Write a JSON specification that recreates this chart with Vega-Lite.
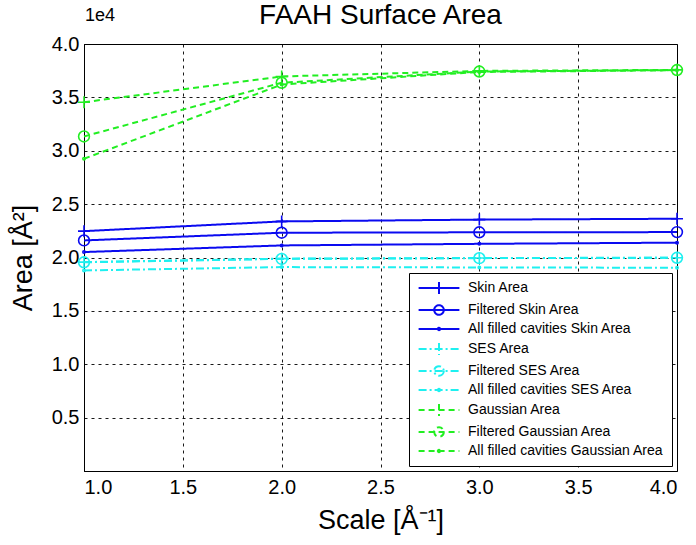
{
  "$schema": "https://vega.github.io/schema/vega-lite/v6.json",
  "width": 593,
  "height": 427,
  "autosize": {"type": "none"},
  "padding": {"left": 84, "top": 44, "right": 19, "bottom": 74},
  "background": "white",
  "config": {
    "font": "Liberation Sans",
    "view": {"stroke": "black", "strokeWidth": 1},
    "axis": {
      "domainColor": "black",
      "gridColor": "black",
      "gridDash": [3, 4],
      "gridOpacity": 0.9,
      "gridWidth": 1,
      "ticks": false,
      "labelColor": "black",
      "labelFontSize": 20,
      "labelFont": "Liberation Sans",
      "titleFont": "Liberation Sans",
      "titleFontSize": 27,
      "titleFontWeight": "normal",
      "titleColor": "black"
    }
  },
  "title": {
    "text": "FAAH Surface Area",
    "fontSize": 28,
    "fontWeight": "normal",
    "font": "Liberation Sans",
    "color": "black",
    "anchor": "middle",
    "offset": 0,
    "dy": 23
  },
  "datasets": {
    "areas": [
      {"scale": 1, "series": "Skin Area", "area": 22470},
      {"scale": 2, "series": "Skin Area", "area": 23380},
      {"scale": 3, "series": "Skin Area", "area": 23550},
      {"scale": 4, "series": "Skin Area", "area": 23630},
      {"scale": 1, "series": "Filtered Skin Area", "area": 21600},
      {"scale": 2, "series": "Filtered Skin Area", "area": 22320},
      {"scale": 3, "series": "Filtered Skin Area", "area": 22360},
      {"scale": 4, "series": "Filtered Skin Area", "area": 22380},
      {"scale": 1, "series": "All filled cavities Skin Area", "area": 20510},
      {"scale": 2, "series": "All filled cavities Skin Area", "area": 21130},
      {"scale": 3, "series": "All filled cavities Skin Area", "area": 21280},
      {"scale": 4, "series": "All filled cavities Skin Area", "area": 21390},
      {"scale": 1, "series": "SES Area", "area": 19570},
      {"scale": 2, "series": "SES Area", "area": 19890},
      {"scale": 3, "series": "SES Area", "area": 19950},
      {"scale": 4, "series": "SES Area", "area": 19980},
      {"scale": 1, "series": "Filtered SES Area", "area": 19550},
      {"scale": 2, "series": "Filtered SES Area", "area": 19870},
      {"scale": 3, "series": "Filtered SES Area", "area": 19940},
      {"scale": 4, "series": "Filtered SES Area", "area": 19970},
      {"scale": 1, "series": "All filled cavities SES Area", "area": 18790},
      {"scale": 2, "series": "All filled cavities SES Area", "area": 19100},
      {"scale": 3, "series": "All filled cavities SES Area", "area": 19070},
      {"scale": 4, "series": "All filled cavities SES Area", "area": 19040},
      {"scale": 1, "series": "Gaussian Area", "area": 34550},
      {"scale": 2, "series": "Gaussian Area", "area": 36960},
      {"scale": 3, "series": "Gaussian Area", "area": 37480},
      {"scale": 4, "series": "Gaussian Area", "area": 37580},
      {"scale": 1, "series": "Filtered Gaussian Area", "area": 31340},
      {"scale": 2, "series": "Filtered Gaussian Area", "area": 36370},
      {"scale": 3, "series": "Filtered Gaussian Area", "area": 37420},
      {"scale": 4, "series": "Filtered Gaussian Area", "area": 37560},
      {"scale": 1, "series": "All filled cavities Gaussian Area", "area": 29250},
      {"scale": 2, "series": "All filled cavities Gaussian Area", "area": 36200},
      {"scale": 3, "series": "All filled cavities Gaussian Area", "area": 37380},
      {"scale": 4, "series": "All filled cavities Gaussian Area", "area": 37540}
    ],
    "exponent": [{"label": "1e4", "scale": 1, "area": 40000}]
  },
  "layer": [
    {
      "data": {"name": "areas"},
      "mark": {"type": "line", "strokeWidth": 2},
      "encoding": {
        "x": {
          "field": "scale", "type": "quantitative",
          "scale": {"domain": [1, 4], "nice": false, "zero": false},
          "axis": {"values": [1, 1.5, 2, 2.5, 3, 3.5, 4], "format": ".1f", "title": "Scale [Å⁻¹]", "labelPadding": 6, "titlePadding": 10}
        },
        "y": {
          "field": "area", "type": "quantitative",
          "scale": {"domain": [0, 40000], "nice": false},
          "axis": {
            "values": [0, 5000, 10000, 15000, 20000, 25000, 30000, 35000, 40000],
            "labelExpr": "datum.value == 0 ? '' : format(datum.value / 10000, '.1f')",
            "title": "Area [Å²]", "labelPadding": 5, "titlePadding": 14
          }
        },
        "color": {
          "field": "series", "type": "nominal",
          "scale": {
            "domain": ["Skin Area", "Filtered Skin Area", "All filled cavities Skin Area", "SES Area", "Filtered SES Area", "All filled cavities SES Area", "Gaussian Area", "Filtered Gaussian Area", "All filled cavities Gaussian Area"],
            "range": ["#0a0af0", "#0a0af0", "#0a0af0", "#1ef0f0", "#1ef0f0", "#1ef0f0", "#22ee22", "#22ee22", "#22ee22"]
          },
          "legend": {
            "title": null,
            "orient": "bottom-right",
            "offset": 5,
            "strokeColor": "black",
            "fillColor": "white",
            "padding": 8,
            "rowPadding": 3,
            "labelFontSize": 14,
            "labelFont": "Liberation Sans",
            "labelColor": "black",
            "labelLimit": 400,
            "symbolSize": 144,
            "symbolStrokeWidth": 2,
            "symbolOffset": 15,
            "labelOffset": 22,
            "cornerRadius": 0,
            "encode": {
              "symbols": {
                "update": {
                  "shape": {"signal": "indexof(['Skin Area','SES Area','Gaussian Area'], datum.value) >= 0 ? 'M-3.4,0H3.4M0,-1V1' : (indexof(['Filtered Skin Area','Filtered SES Area','Filtered Gaussian Area'], datum.value) >= 0 ? 'M-3.4,0H3.4M0.8,0A0.8,0.8 0 1,1 -0.8,0A0.8,0.8 0 1,1 0.8,0' : 'M-3.4,0H3.4M0.2,0A0.2,0.2 0 1,1 -0.2,0A0.2,0.2 0 1,1 0.2,0')"},
                  "fill": {"value": "transparent"}
                }
              }
            }
          }
        },
        "strokeDash": {
          "field": "series", "type": "nominal",
          "scale": {
            "domain": ["Skin Area", "Filtered Skin Area", "All filled cavities Skin Area", "SES Area", "Filtered SES Area", "All filled cavities SES Area", "Gaussian Area", "Filtered Gaussian Area", "All filled cavities Gaussian Area"],
            "range": [[1, 0], [1, 0], [1, 0], [8, 3, 2, 3], [8, 3, 2, 3], [8, 3, 2, 3], [6, 4], [6, 4], [6, 4]]
          }
        }
      }
    },
    {
      "data": {"name": "areas"},
      "transform": [{"filter": {"field": "series", "oneOf": ["Skin Area", "SES Area", "Gaussian Area"]}}],
      "mark": {"type": "point", "shape": "M-1,0H1M0,-1V1", "filled": false, "strokeWidth": 1.6, "size": 144, "opacity": 1},
      "encoding": {
        "x": {"field": "scale", "type": "quantitative"},
        "y": {"field": "area", "type": "quantitative"},
        "color": {"field": "series", "type": "nominal"}
      }
    },
    {
      "data": {"name": "areas"},
      "transform": [{"filter": {"field": "series", "oneOf": ["Filtered Skin Area", "Filtered SES Area", "Filtered Gaussian Area"]}}],
      "mark": {"type": "point", "shape": "M0.9,0A0.9,0.9 0 1,1 -0.9,0A0.9,0.9 0 1,1 0.9,0", "filled": false, "strokeWidth": 1.6, "size": 144, "opacity": 1},
      "encoding": {
        "x": {"field": "scale", "type": "quantitative"},
        "y": {"field": "area", "type": "quantitative"},
        "color": {"field": "series", "type": "nominal"}
      }
    },
    {
      "data": {"name": "areas"},
      "transform": [{"filter": {"field": "series", "oneOf": ["All filled cavities Skin Area", "All filled cavities SES Area", "All filled cavities Gaussian Area"]}}],
      "mark": {"type": "point", "shape": "M0.2,0A0.2,0.2 0 1,1 -0.2,0A0.2,0.2 0 1,1 0.2,0", "filled": false, "strokeWidth": 1.6, "size": 144, "opacity": 1},
      "encoding": {
        "x": {"field": "scale", "type": "quantitative"},
        "y": {"field": "area", "type": "quantitative"},
        "color": {"field": "series", "type": "nominal"}
      }
    },
    {
      "data": {"name": "exponent"},
      "mark": {"type": "text", "align": "left", "baseline": "alphabetic", "dy": -23, "dx": 1, "fontSize": 18, "font": "Liberation Sans", "color": "black"},
      "encoding": {
        "x": {"field": "scale", "type": "quantitative"},
        "y": {"field": "area", "type": "quantitative"},
        "text": {"field": "label"}
      }
    }
  ]
}
